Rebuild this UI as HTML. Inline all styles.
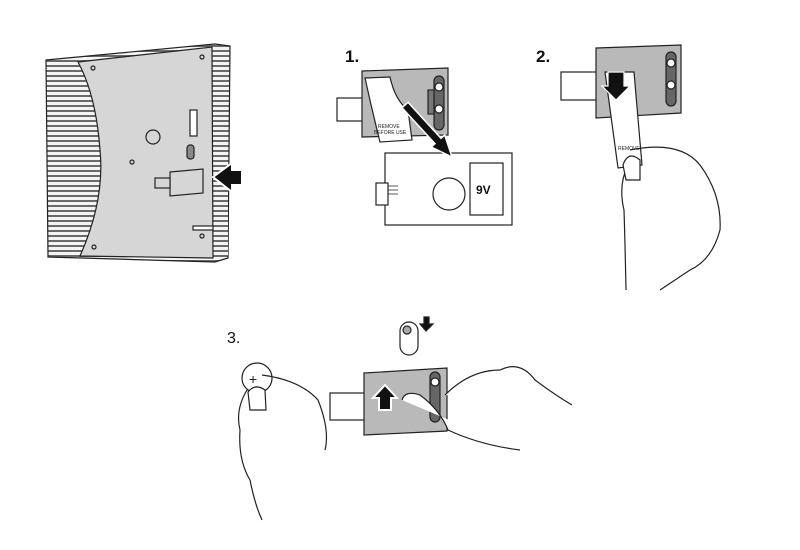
<!DOCTYPE html>
<html><head><meta charset="utf-8"><style>
html,body{margin:0;padding:0;background:#fff;width:800px;height:550px;overflow:hidden}
svg{display:block}
text{font-family:"Liberation Sans",sans-serif}
</style></head><body>
<svg width="800" height="550" viewBox="0 0 800 550" xmlns="http://www.w3.org/2000/svg">
<defs>
<pattern id="gr" width="6" height="5" patternUnits="userSpaceOnUse">
<rect width="6" height="5" fill="#f4f4f4"/><rect y="0" width="6" height="2" fill="#6a6a6a"/>
</pattern>
</defs>
<g stroke="#222" stroke-width="1.2">
<!-- device -->
<path d="M46,60 L215,44 L230,46 L228,258 L215,262 L48,257 Z" fill="url(#gr)"/>
<path d="M78,62 L212,47 L213,258 L80,256 Q105,200 100,150 Q96,95 78,62 Z" fill="#d6d6d6"/>
<rect x="215" y="48" width="13" height="208" fill="url(#gr)" stroke="none"/>
<circle cx="93" cy="68" r="2" fill="none"/><circle cx="202" cy="57" r="2" fill="none"/>
<circle cx="132" cy="162" r="2" fill="none"/><circle cx="94" cy="247" r="2" fill="none"/><circle cx="202" cy="236" r="2" fill="none"/>
<circle cx="153" cy="137" r="7" fill="none"/>
<rect x="190" y="110" width="7" height="26" fill="#fff"/>
<rect x="187" y="145" width="7" height="14" rx="3" fill="#888"/>
<path d="M170,172 L203,169 L203,193 L170,196 Z" fill="#d6d6d6"/>
<rect x="155" y="178" width="15" height="10" fill="#d6d6d6"/>
<rect x="193" y="226" width="20" height="4" fill="#fff"/>
<path d="M213,177 L232,163 L232,170 L242,170 L242,185 L232,185 L232,192 Z" fill="#111" stroke="#fff" stroke-width="2"/>
</g>
<!-- labels -->
<text x="345" y="62" font-size="17" font-weight="bold" fill="#111">1.</text>
<text x="536" y="62" font-size="17" font-weight="bold" fill="#111">2.</text>
<text x="227" y="343" font-size="16" fill="#111">3.</text>
<!-- step 1 -->
<g stroke="#222" stroke-width="1.2">
<rect x="337" y="98" width="27" height="23" fill="#fff"/>
<path d="M362,71 L448,68 L448,135 L362,137 Z" fill="#b9b9b9"/>
<rect x="434" y="76" width="10" height="54" rx="5" fill="#666"/>
<circle cx="439" cy="87" r="4" fill="#fff"/><circle cx="439" cy="109" r="4" fill="#fff"/>
<rect x="428" y="90" width="6" height="24" fill="#777"/>
<path d="M365,78 L390,77 Q395,100 408,110 L412,140 L380,142 Q372,110 365,78 Z" fill="#fff"/>
<rect x="385" y="153" width="127" height="72" fill="#fff"/>
<path d="M398,186 L386,186 M398,190 L386,190 M398,194 L386,194" stroke-width="0.8"/>
<rect x="376" y="183" width="12" height="22" fill="#fff"/>
<circle cx="449" cy="194" r="16" fill="#fff"/>
<rect x="470" y="163" width="33" height="52" fill="#fff"/>
<polygon points="408,102.3 441,138.3 444.7,135 452,157 431.3,147 435,143.7 402,107.7" fill="#111" stroke="#fff" stroke-width="1.5"/>
</g>
<text x="378" y="128" font-size="5" fill="#222">REMOVE</text>
<text x="374" y="134" font-size="5" fill="#222">BEFORE USE</text>
<text x="476" y="194" font-size="12" font-weight="bold" fill="#111">9V</text>
<!-- step 2 -->
<g stroke="#222" stroke-width="1.2">
<rect x="561" y="72" width="37" height="28" fill="#fff"/>
<path d="M596,48 L681,45 L681,113 L596,118 Z" fill="#b9b9b9"/>
<rect x="666" y="52" width="10" height="54" rx="5" fill="#666"/>
<circle cx="671" cy="63" r="4" fill="#fff"/><circle cx="671" cy="85" r="4" fill="#fff"/>
<path d="M605,72 L634,72 L642,165 L618,168 Z" fill="#fff"/>
<path d="M608,72 L624,72 L624,86 L630,86 L616,100 L602,86 L608,86 Z" fill="#111" stroke="#fff"/>
<path d="M630,150 Q680,140 700,165 Q722,195 720,230 Q712,260 690,270 L660,290 M628,165 Q618,185 624,210 Q625,240 626,290" fill="none"/>
<path d="M623,165 Q628,150 640,160 L640,180 L626,180 Z" fill="#fff"/>
</g>
<text x="618" y="150" font-size="5" fill="#222">REMOVE</text>
<!-- step 3 -->
<g stroke="#222" stroke-width="1.2">
<rect x="400" y="322" width="18" height="33" rx="9" fill="#fff"/>
<circle cx="407" cy="330" r="4" fill="#aaa"/>
<path d="M424,317 L429,317 L429,324 L433,324 L426,331 L420,324 L424,324 Z" fill="#111"/>
<rect x="330" y="393" width="35" height="27" fill="#fff"/>
<path d="M364,373 L447,368 L447,431 L364,435 Z" fill="#b9b9b9"/>
<rect x="430" y="372" width="10" height="50" rx="5" fill="#666"/>
<circle cx="435" cy="382" r="4" fill="#fff"/>
<path d="M385,385 L397,398 L391,398 L391,410 L379,410 L379,398 L373,398 Z" fill="#111" stroke="#fff" stroke-width="2"/>
<path d="M402,400 Q405,390 420,395 Q440,410 448,430 Q480,445 520,450 M445,395 Q470,370 500,370 Q520,360 535,380 Q555,395 572,405" fill="#fff"/>
<circle cx="257" cy="378" r="15" fill="#fff"/>
<text x="249" y="384" font-size="14" stroke="none" fill="#222">+</text>
<path d="M262,375 Q300,380 318,400 Q330,430 325,450 M247,390 Q235,410 240,430 Q238,460 250,480 Q255,505 262,520" fill="none"/>
<path d="M248,392 Q255,383 265,390 L266,410 L250,410 Z" fill="#fff"/>
</g>
</svg>
</body></html>
